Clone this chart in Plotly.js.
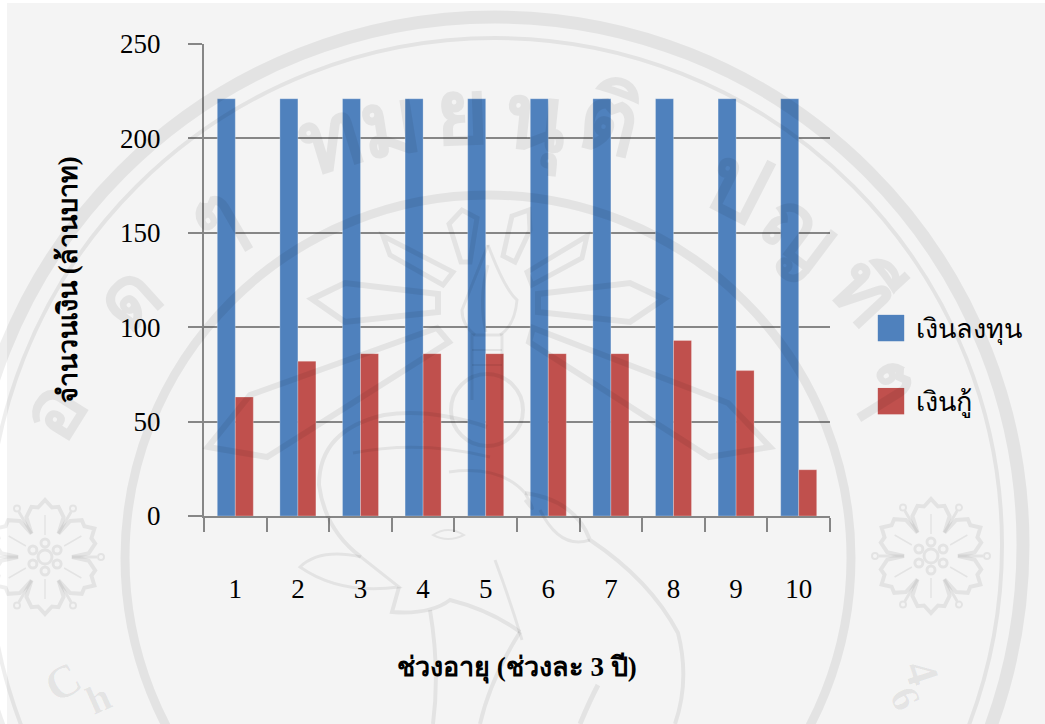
<!DOCTYPE html>
<html lang="th">
<head>
<meta charset="utf-8">
<script src="https://cdn.plot.ly/plotly-3.0.1.min.js"></script>
<style>html,body{margin:0;padding:0;background:#fff}</style>
</head>
<body>
<div id="chart" style="width:1045px;height:724px"></div>
<script>
// Capital structure per three-year age band (million baht)
const ageBands = ['1','2','3','4','5','6','7','8','9','10'];
const investment = [221,221,221,221,221,221,221,221,221,221];
const loans = [63,82,86,86,86,86,86,93,77,24.5];
const seriesNames = ['เงินลงทุน','เงินกู้'];
const yTitle = 'จำนวนเงิน (ล้านบาท)';
const xTitle = 'ช่วงอายุ (ช่วงละ 3 ปี)';

const W = 1045, H = 724;
const M = {l:204, r:215, t:44, b:208};
const PW = W - M.l - M.r, PH = H - M.t - M.b;
const SERIF = '"Liberation Serif","Times New Roman",serif';
const AXIS = '#868686';
const INK = 'rgba(0,0,0,0.065)';

// Pixel position on the page to paper coordinates
const px = x => (x - M.l) / PW;
const py = y => 1 - (y - M.t) / PH;

// Converts a path written in page pixels ("M x y L x y Q ...") to paper units
function toPaper(d) {
  let isX = true;
  return d.replace(/[A-Z]|-?\d+(\.\d+)?/g, tok => {
    if (/[A-Z]/.test(tok)) { isX = true; return tok; }
    const v = isX ? px(+tok) : py(+tok);
    isX = !isX;
    return v.toFixed(5);
  });
}
const stroke = (d, w) => ({type:'path', xref:'paper', yref:'paper', layer:'above',
  path: toPaper(d), line:{color:INK, width:w}, fillcolor:'rgba(0,0,0,0)'});
const ring = (cx, cy, r, w) => ({type:'circle', xref:'paper', yref:'paper', layer:'above',
  x0:px(cx-r), x1:px(cx+r), y0:py(cy+r), y1:py(cy-r), line:{color:INK, width:w}});

// Six-petal rosette of the seal corners
function rosette(cx, cy) {
  const out = [];
  const xy = (r, a) => {
    const t = a * Math.PI / 180;
    return [cx + r * Math.cos(t), cy - r * Math.sin(t)];
  };
  const pt = (r, a) => xy(r, a).map(v => v.toFixed(1)).join(' ');
  let d = '';
  [90,150,210,270,330,30].forEach((a, i) => {
    d += (i ? 'L ' : 'M ') + pt(27, a - 30) + ' L ' + pt(44, a - 25) + ' L ' + pt(52, a - 15) + ' L ' + pt(50, a - 8) + ' L ' + pt(57, a) + ' L ' + pt(50, a + 8) + ' L ' + pt(52, a + 15) + ' L ' + pt(44, a + 25) + ' ';
  });
  out.push(stroke(d + 'Z', 4));
  [0,60,120,180,240,300].forEach(a => {
    out.push(stroke('M ' + pt(27, a) + ' L ' + pt(52, a), 3));
    const dot = xy(56, a);
    out.push(ring(dot[0], dot[1], 3, 2));
    out.push(stroke('M ' + pt(22, a + 30) + ' L ' + pt(42, a + 30), 1.5));
    const lobe = xy(14, a + 30);
    out.push(ring(lobe[0], lobe[1], 4, 3));
  });
  out.push(ring(cx, cy, 7, 3));
  return out;
}

const sealLines = [
  // sun rays above the flame
  ['M 449 224 L 462 210 L 477 218 L 470 262 L 461 262 Z', 5],
  ['M 512 216 L 529 210 L 530 230 L 515 262 L 503 256 Z', 5],
  ['M 383 236 L 453 272 L 443 285 L 390 255 Z', 5],
  ['M 587 236 L 527 272 L 532 285 L 582 258 Z', 5],
  ['M 312 299 L 345 283 L 438 294 L 438 312 L 345 322 Z', 6],
  ['M 664 299 L 630 283 L 538 294 L 538 312 L 630 322 Z', 6],
  ['M 208 447 L 267 457 L 449 342 L 437 328 L 250 395 Z', 6],
  ['M 770 447 L 709 457 L 529 342 L 533 328 L 728 403 Z', 6],
  // flame
  ['M 488 245 Q 470 290 462 310 Q 462 325 475 335', 3],
  ['M 488 245 Q 505 290 517 300 Q 515 325 500 335', 3],
  ['M 488 265 Q 478 300 486 332', 3],
  // torch and its medallion
  ['M 472 400 L 472 335 L 502 335 L 502 400', 3],
  ['M 472 350 L 502 350 M 472 365 L 502 365', 2],
  // elephant head and body
  ['M 487 427 Q 430 408 384 415 Q 319 430 319 485 Q 325 530 361 557', 4],
  ['M 361 557 Q 320 548 300 567 Q 340 595 399 587 L 361 557', 3],
  ['M 399 587 L 392 612 Q 430 615 450 600 Q 490 610 520 632', 4],
  ['M 353 453 Q 420 440 490 457', 3],
  ['M 449 472 Q 500 465 525 493 Q 540 520 525 500', 3],
  ['M 525 493 Q 575 500 590 540 Q 650 580 678 633 Q 690 680 675 724', 4],
  ['M 590 540 Q 560 550 540 510', 3],
  ['M 430 610 Q 440 670 433 724', 4],
  ['M 520 632 Q 490 680 480 724', 4],
  ['M 495 560 Q 510 600 522 640', 3],
  ['M 580 724 Q 590 700 598 685', 5],
  ['M 433 535 Q 448 525 464 535 Q 448 543 433 535 Z', 2]
];

// Letters set on the arc of the seal, as x, y, rotation and size on the page
const sealText = [
  {t:'อ', x:53, y:410, a:-58, s:84}, {t:'ด', x:128, y:297, a:-42, s:84},
  {t:'ๆ', x:215, y:217, a:-30, s:84}, {t:'ท', x:330, y:139, a:-17, s:92},
  {t:'ม', x:390, y:124, a:-9, s:92}, {t:'ย', x:462, y:113, a:-2, s:92},
  {t:'นุ', x:535, y:121, a:6, s:92}, {t:'ติ', x:610, y:121, a:14, s:92},
  {t:'ป', x:737, y:186, a:27, s:92}, {t:'ญ', x:800, y:232, a:37, s:84},
  {t:'ที', x:865, y:292, a:47, s:84}, {t:'ๆ', x:890, y:382, a:58, s:84},
  {t:'C', x:62, y:682, a:-30, s:46}, {t:'h', x:98, y:698, a:-24, s:40},
  {t:'4', x:922, y:672, a:72, s:46}, {t:'6', x:906, y:698, a:64, s:40}
];

const shapes = [
  // paper panel behind the chart
  {type:'rect', xref:'paper', yref:'paper', layer:'below', x0:px(7), x1:px(W), y0:py(H), y1:py(3),
   fillcolor:'#f4f4f4', line:{width:0}},
  ring(495, 545, 528, 13),
  ring(495, 545, 507, 4),
  ring(488, 558, 363, 9),
  ring(487, 410, 36, 4),
  ...rosette(45, 557),
  ...rosette(931, 556),
  ...sealLines.map(s => stroke(s[0], s[1]))
];

const annotations = sealText.map(g => ({
  xref:'paper', yref:'paper', x:px(g.x), y:py(g.y), xanchor:'center', yanchor:'middle',
  text:g.t, textangle:g.a, showarrow:false,
  font:{family:SERIF, size:g.s, color:INK, weight:700}
}));
annotations.push(
  {xref:'paper', yref:'paper', x:px(68), y:py(280), xanchor:'center', yanchor:'middle',
   text:yTitle, textangle:-90, showarrow:false,
   font:{family:SERIF, size:27, color:'#000', weight:700}},
  {xref:'paper', yref:'paper', x:px(517), y:py(668), xanchor:'center', yanchor:'middle',
   text:xTitle, showarrow:false,
   font:{family:SERIF, size:27, color:'#000', weight:700}}
);

const barEdge = {color:'rgba(255,255,255,0.25)', width:1};
const traces = [
  {type:'bar', name:seriesNames[0], x:ageBands, y:investment, legendgroup:'a',
   marker:{color:'#4f81bd', line:barEdge}},
  {type:'bar', name:seriesNames[1], x:ageBands, y:loans, legendgroup:'b',
   marker:{color:'#c0504d', line:barEdge}}
];

const layout = {
  width:W, height:H, margin:M,
  paper_bgcolor:'#ffffff', plot_bgcolor:'rgba(0,0,0,0)',
  font:{family:SERIF, color:'#000'},
  barmode:'group', bargap:0.425, bargroupgap:0,
  xaxis:{type:'category', tickson:'boundaries', ticks:'outside', ticklen:14, tickwidth:2,
    tickcolor:AXIS, showline:true, linecolor:AXIS, linewidth:2, showgrid:false, zeroline:false,
    ticklabelstandoff:48, tickfont:{family:SERIF, size:27, color:'#000'}},
  yaxis:{range:[0,250], tickvals:[0,50,100,150,200,250], ticks:'outside', ticklen:14, tickwidth:2,
    tickcolor:AXIS, showline:true, linecolor:AXIS, linewidth:2, showgrid:true, gridcolor:AXIS,
    gridwidth:2, zeroline:false, ticklabelstandoff:22, tickfont:{family:SERIF, size:27, color:'#000'}},
  showlegend:true,
  legend:{x:px(866), xanchor:'left', y:py(303), yanchor:'top', bgcolor:'rgba(0,0,0,0)',
    traceorder:'grouped', tracegroupgap:35, itemwidth:40, itemclick:false, itemdoubleclick:false,
    font:{family:SERIF, size:27, color:'#000'}},
  shapes, annotations
};

Plotly.newPlot('chart', traces, layout, {displayModeBar:false, responsive:false}).then(gd => {
  // Enlarge the legend swatches to the chart's square keys
  gd.querySelectorAll('.legendpoints path').forEach(p => {
    p.setAttribute('transform', (p.getAttribute('transform') || '') + ' translate(0,1) scale(2.2)');
    p.style.strokeWidth = '0';
  });
});
</script>
</body>
</html>
